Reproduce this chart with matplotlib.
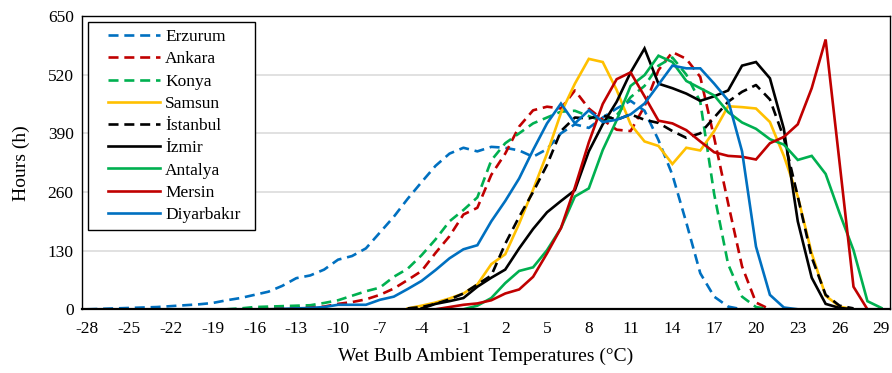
import numpy as np
import matplotlib
matplotlib.use("Agg")
import matplotlib.pyplot as plt
from matplotlib.patches import Rectangle

plt.rcParams['font.family'] = ['Liberation Serif', 'DejaVu Serif']

# wet bulb temperature categories (degC)
temps = list(range(-28, 30))
tick_labels = [str(t) for t in range(-28, 30, 3)]

# hours per temperature bin, each list starts at its *_start temperature
erzurum_start = -28
erzurum = [0, 1, 2, 3, 4, 5, 7, 9, 11, 14, 20, 25, 32, 39, 52, 69, 75, 88, 110, 118,
           135, 170, 205, 245, 282, 318, 345, 358, 350, 360, 358, 352, 338, 355, 390,
           410, 402, 425, 445, 462, 440, 375, 298, 192, 80, 28, 6, 0, 0]
ankara_start = -18
ankara = [0, 0, 1, 2, 3, 4, 5, 6, 12, 16, 22, 32, 46, 65, 85, 125, 162, 210, 225, 298,
          345, 405, 441, 449, 445, 485, 445, 420, 398, 395, 450, 530, 570, 555, 515,
          380, 235, 95, 15, 0, 0, 0]
konya_start = -18
konya = [0, 2, 5, 6, 7, 8, 9, 14, 20, 30, 40, 48, 72, 90, 120, 155, 195, 220, 248, 330,
         368, 390, 412, 425, 438, 440, 428, 417, 430, 470, 495, 540, 558, 520, 460,
         255, 100, 28, 5, 0]
samsun_start = -5
samsun = [2, 8, 15, 24, 35, 55, 100, 122, 190, 265, 345, 435, 500, 555, 548, 486, 410,
          372, 362, 322, 358, 352, 395, 450, 448, 445, 415, 340, 250, 124, 30, 6, 0]
istanbul_start = -5
istanbul = [2, 5, 12, 22, 35, 55, 75, 145, 205, 260, 320, 395, 425, 423, 430, 420, 432,
            420, 413, 395, 380, 390, 425, 460, 482, 497, 465, 380, 250, 115, 32, 8, 2]
izmir_start = -4
izmir = [2, 12, 18, 25, 50, 70, 88, 135, 178, 215, 240, 264, 350, 410, 460, 525, 578,
         500, 490, 478, 462, 472, 485, 540, 548, 512, 400, 195, 70, 12, 3, 0]
antalya_start = -1
antalya = [0, 8, 25, 58, 85, 93, 131, 180, 250, 268, 353, 419, 495, 519, 562, 548, 506,
           490, 474, 437, 414, 400, 377, 365, 331, 340, 300, 213, 131, 18, 3]
mersin_start = -3
mersin = [0, 5, 10, 13, 20, 35, 44, 72, 124, 180, 270, 370, 455, 510, 525, 472, 418,
          412, 397, 372, 348, 340, 338, 332, 368, 382, 410, 490, 598, 325, 50, 0, 0]
diyarbakir_start = -18
diyarbakir = [0, 0, 0, 0, 1, 2, 3, 5, 10, 10, 10, 21, 28, 45, 63, 87, 113, 133, 142,
              195, 240, 290, 353, 412, 456, 412, 441, 415, 420, 432, 456, 498, 540, 534,
              534, 500, 463, 350, 139, 32, 4, 0]

series = [
    ("Erzurum", erzurum_start, erzurum, "#0070C0", "--"),
    ("Ankara", ankara_start, ankara, "#C00000", "--"),
    ("Konya", konya_start, konya, "#00B050", "--"),
    ("Samsun", samsun_start, samsun, "#FFC000", "-"),
    ("İstanbul", istanbul_start, istanbul, "#000000", "--"),
    ("İzmir", izmir_start, izmir, "#000000", "-"),
    ("Antalya", antalya_start, antalya, "#00B050", "-"),
    ("Mersin", mersin_start, mersin, "#C00000", "-"),
    ("Diyarbakır", diyarbakir_start, diyarbakir, "#0070C0", "-"),
]

W, H = 892, 373
fig = plt.figure(figsize=(W / 100, H / 100), dpi=100)
ax = fig.add_axes([82 / W, 1 - 309.3 / H, 808 / W, 293.3 / H])

for name, start, vals, color, ls in series:
    x = np.arange(start, start + len(vals))
    line, = ax.plot(x, vals, color=color, lw=1.9, ls=ls, label=name,
                    solid_joinstyle='miter')
    if ls == "--":
        line.set_dashes((3.8, 2.2))

ax.set_xlim(-28.38, 29.62)
ax.set_ylim(0, 650)
ax.set_yticks(np.arange(0, 651, 130))
ax.set_xticks(range(-28, 30, 3))
ax.set_xticklabels(tick_labels)
ax.tick_params(axis='both', length=0, labelsize=12.5)
ax.tick_params(axis='x', pad=8.5)
ax.tick_params(axis='y', pad=6)
ax.yaxis.grid(True, color='#D9D9D9', lw=1.1)
ax.set_axisbelow(True)
for s in ax.spines.values():
    s.set_color('black')
    s.set_linewidth(1.0)
ax.spines['bottom'].set_linewidth(1.6)

ax.set_ylabel("Hours (h)", fontsize=14)
ax.yaxis.set_label_coords(-0.064, 0.5)
ax.set_xlabel("Wet Bulb Ambient Temperatures (°C)", fontsize=14)
ax.xaxis.set_label_coords(0.5, -0.13)

# legend box drawn separately so the padding matches the original
box = Rectangle((88 / W, 1 - 230 / H), 167 / W, 208 / H, transform=fig.transFigure,
                facecolor='white', edgecolor='black', lw=1.0, zorder=4, clip_on=False)
ax.add_patch(box)
leg = ax.legend(loc='upper left', bbox_to_anchor=(108 / W, 1 - 29 / H),
                bbox_transform=fig.transFigure, borderaxespad=0, borderpad=0,
                fontsize=12.5, handlelength=3.0, handletextpad=0.3,
                labelspacing=0.35, frameon=False)
leg.set_zorder(5)

fig.savefig("out.png", dpi=100)
